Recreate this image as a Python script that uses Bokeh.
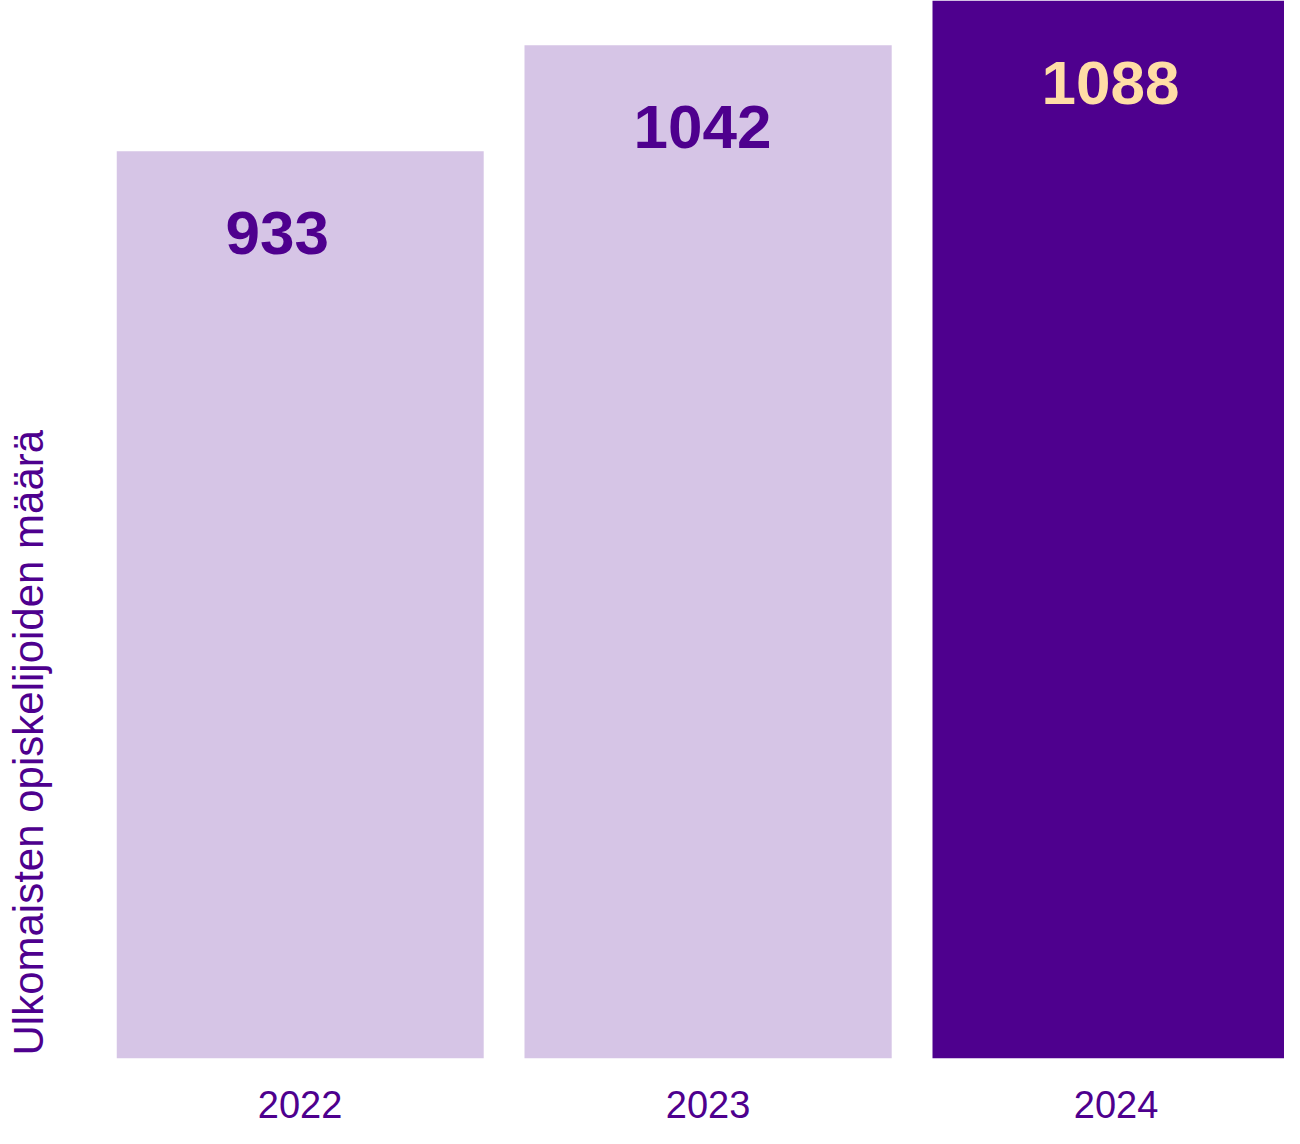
from bokeh.plotting import figure
from bokeh.models import ColumnDataSource, FixedTicker, Range1d, Title
from bokeh.core.properties import value
from bokeh.embed import file_html
from bokeh.resources import INLINE

years = ["2022", "2023", "2024"]
counts = [933, 1042, 1088]
bar_colors = ["#D6C5E6", "#D6C5E6", "#4E008E"]
label_colors = ["#4E008E", "#4E008E", "#FFDDA6"]
axis_title = "Ulkomaisten opiskelijoiden määrä"

idx = list(range(len(years)))
W = 0.9
src = ColumnDataSource(dict(
    x=idx, top=counts, color=bar_colors, tcolor=label_colors,
    left=[i - W / 2 for i in idx], txt=[str(c) for c in counts],
))

p = figure(width=1284, height=1128, output_backend="svg", toolbar_location=None,
           x_range=Range1d(-0.45, -0.45 + 1168 / 408), y_range=Range1d(0, 1088),
           min_border_left=116, min_border_right=0, min_border_top=0,
           min_border_bottom=70)
p.outline_line_color = None
p.xgrid.visible = False
p.ygrid.visible = False
p.yaxis.visible = False
p.title.visible = False

p.vbar(x="x", top="top", bottom=0, width=W, fill_color="color", line_color=None, source=src)

p.text(x="left", y="top", text="txt", source=src, text_color="tcolor",
       text_font=value("Liberation Sans"), text_font_style="bold",
       text_font_size="62px", text_align="left", text_baseline="alphabetic",
       x_offset=109, y_offset=82)

ax = p.xaxis[0]
ax.ticker = FixedTicker(ticks=idx)
ax.major_label_overrides = {i: y for i, y in zip(idx, years)}
ax.axis_line_color = None
ax.major_tick_line_color = None
ax.minor_tick_line_color = None
ax.major_tick_out = 0
ax.major_label_standoff = 32
ax.major_label_text_font = "Liberation Sans"
ax.major_label_text_font_size = "38px"
ax.major_label_text_color = "#4E008E"

spacer = Title(text=" ", text_font_size="10px", standoff=50)
p.add_layout(spacer, "left")

t = Title(text=axis_title, align="left", vertical_align="top",
          text_font="Liberation Sans", text_font_size="42px",
          text_font_style="normal", text_color="#4E008E",
          standoff=0, offset=3)
p.add_layout(t, "left")

open("out.html", "w").write(file_html(p, INLINE))
